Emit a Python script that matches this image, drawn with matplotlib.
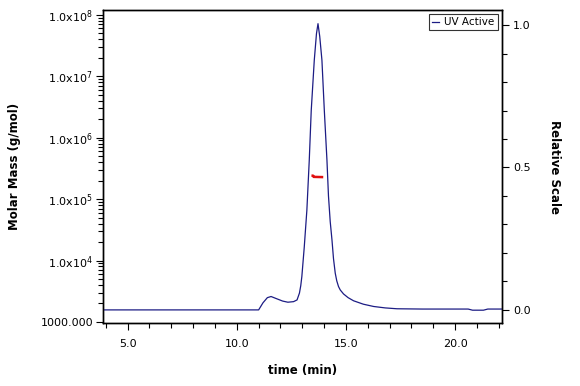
import matplotlib
matplotlib.use("Agg")
import matplotlib.pyplot as plt
from matplotlib.ticker import FixedLocator, MultipleLocator, LogLocator, NullFormatter, FixedFormatter

# ---- data ----
uv_time = [3.87, 11.0, 11.2, 11.4, 11.57, 11.8, 12.1, 12.34, 12.6, 12.76, 12.87, 12.93,
           12.98, 13.09, 13.21, 13.32, 13.41, 13.55, 13.65, 13.72, 13.80, 13.90, 14.01,
           14.13, 14.20, 14.28, 14.36, 14.43, 14.51, 14.58, 14.66, 14.74, 14.89, 15.1,
           15.35, 15.8, 16.27, 16.8, 17.34, 18.5, 20.0, 20.6, 20.8, 21.3, 21.5, 22.15]
uv_rel = [0.0, 0.0, 0.025, 0.043, 0.047, 0.040, 0.031, 0.027, 0.029, 0.035, 0.059, 0.085,
          0.117, 0.22, 0.35, 0.526, 0.70, 0.877, 0.97, 1.005, 0.96, 0.877, 0.70,
          0.526, 0.40, 0.31, 0.246, 0.18, 0.129, 0.102, 0.082, 0.07, 0.056, 0.043,
          0.032, 0.020, 0.012, 0.007, 0.004, 0.003, 0.003, 0.003, -0.001, -0.001, 0.003, 0.003]

mm_time = [13.42, 13.50, 13.52, 13.96]
mm_mass = [2.42e5, 2.40e5, 2.30e5, 2.28e5]

left_ticks = [1e3, 1e4, 1e5, 1e6, 1e7, 1e8]
left_labels = ["1000.000", r"1.0x10$^{4}$", r"1.0x10$^{5}$", r"1.0x10$^{6}$",
               r"1.0x10$^{7}$", r"1.0x10$^{8}$"]
right_ticks = [0.0, 0.5, 1.0]
right_labels = ["0.0", "0.5", "1.0"]
x_ticks = [5.0, 10.0, 15.0, 20.0]
x_labels = ["5.0", "10.0", "15.0", "20.0"]

plt.rcParams['font.family'] = ['DejaVu Sans']
fig = plt.figure(figsize=(5.8, 3.86), dpi=100)
ax = fig.add_axes([0.1776, 0.1632, 0.6879, 0.8109])
ax2 = ax.twinx()

line_color = '#1c1c84'

ax.set_yscale('log')
ax.set_xlim(3.87, 22.15)
ax.set_ylim(960, 1.2e8)
ax2.set_ylim(-0.046, 1.053)

ax.plot(mm_time, mm_mass, color='#e01010', lw=1.8, solid_capstyle='butt')
ax2.plot(uv_time, uv_rel, color=line_color, lw=0.9, label='UV Active')

ax.yaxis.set_major_locator(FixedLocator(left_ticks))
ax.yaxis.set_major_formatter(FixedFormatter(left_labels))
ax.yaxis.set_minor_locator(LogLocator(base=10, subs=range(2, 10), numticks=20))
ax.yaxis.set_minor_formatter(NullFormatter())

ax2.yaxis.set_major_locator(FixedLocator(right_ticks))
ax2.yaxis.set_major_formatter(FixedFormatter(right_labels))
ax2.yaxis.set_minor_locator(MultipleLocator(0.1))

ax.xaxis.set_major_locator(FixedLocator(x_ticks))
ax.xaxis.set_major_formatter(FixedFormatter(x_labels))
ax.xaxis.set_minor_locator(MultipleLocator(1.0))

for a in (ax, ax2):
    a.tick_params(which='major', direction='out', length=5, width=0.8, labelsize=8, colors='black')
    a.tick_params(which='minor', direction='out', length=3.5, width=0.8)
    for s in a.spines.values():
        s.set_linewidth(1.0)
ax.tick_params(axis='y', which='major', pad=2)
ax.tick_params(axis='x', which='major', pad=6.5)
ax2.tick_params(axis='y', which='major', pad=3)

ax.set_xlabel('time (min)', fontsize=8.5, fontweight='bold', labelpad=11)
ax.set_ylabel('Molar Mass (g/mol)', fontsize=8.5, fontweight='bold', labelpad=14)
ax2.set_ylabel('Relative Scale', fontsize=8.5, fontweight='bold', rotation=-90, labelpad=22)

leg = ax2.legend(loc='upper right', fontsize=7.5, frameon=True, fancybox=False,
                 handlelength=0.7, handletextpad=0.5, borderpad=0.3,
                 borderaxespad=0.4)
leg.get_frame().set_edgecolor('black')
leg.get_frame().set_linewidth(0.8)

fig.savefig('out.png', dpi=100)
